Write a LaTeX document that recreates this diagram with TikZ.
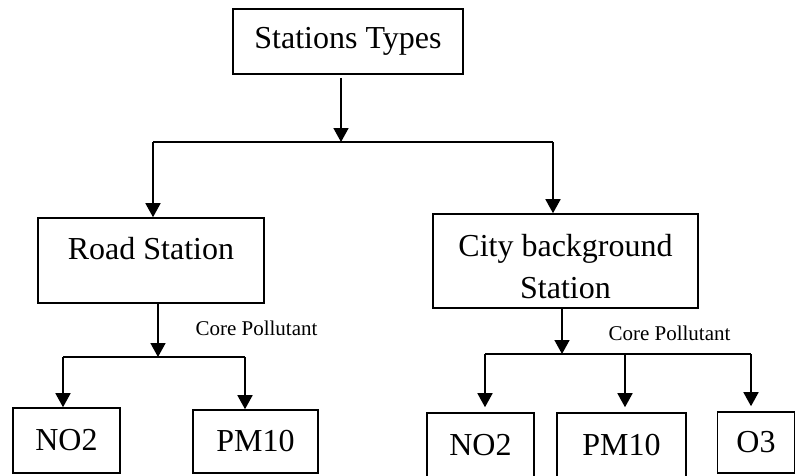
\documentclass[tikz,border=0pt]{standalone}
\usepackage{fontspec}
\setmainfont{Liberation Serif}
\usetikzlibrary{arrows.meta}

\begin{document}
\begin{tikzpicture}[
    x=1pt, y=-1pt,
    box/.style={draw, line width=1.6pt, inner sep=0pt, font=\fontsize{32}{42}\selectfont},
    note/.style={inner sep=0pt, font=\fontsize{21}{25}\selectfont},
    link/.style={line width=1.6pt},
    arr/.style={line width=1.6pt, -{Triangle[width=15pt,length=14pt]}}
  ]
  \clip (0,0) rectangle (795,475);
  \fill[white] (0,0) rectangle (795,475);

  % Root node
  \node[box, minimum width=230pt, minimum height=65pt] (types) at (348,41.5) {Stations Types};

  % Station nodes
  \node[box, minimum width=226pt, text height=41pt, text depth=44pt] (road) at (151,260.5) {Road Station};
  \node[box, align=center, minimum width=265pt, text height=84.5pt, text depth=9.5pt] (city) at (565.5,261) {City background\\Station};

  % Pollutant nodes
  \node[box, minimum width=107pt, minimum height=65pt] (noL) at (66.5,440.5) {NO2};
  \node[box, minimum width=125pt, minimum height=63pt] (pmL) at (255.5,441.5) {PM10};
  \node[box, minimum width=107pt, minimum height=65pt] (noR) at (480.5,445.5) {NO2};
  \node[box, minimum width=129pt, minimum height=65pt] (pmR) at (621.5,445.5) {PM10};
  \node[box, minimum width=77pt, minimum height=61pt] (ozR) at (756,442.5) {O3};

  \node[note] (cpL) at (256.5,328) {Core Pollutant};
  \node[note] (cpR) at (669.5,333) {Core Pollutant};

  % Joints
  \coordinate (j0) at (341,142);
  \coordinate (jL) at (153,142);
  \coordinate (jR) at (553,142);
  \coordinate (kL) at (158,357);
  \coordinate (kL1) at (63,357);
  \coordinate (kL2) at (245,357);
  \coordinate (kR) at (562,354);
  \coordinate (kR1) at (485,354);
  \coordinate (kR2) at (625,354);
  \coordinate (kR3) at (751,354);

  % Root to stations
  \draw[arr, shorten <=3pt] (j0 |- types.south) -- (j0);
  \draw[link] (jL) -- (jR);
  \draw[arr] (jL) -- (jL |- road.north);
  \draw[arr] (jR) -- (jR |- city.north);

  % Road station to pollutants
  \draw[arr] (kL |- road.south) -- (kL);
  \draw[link] (kL1) -- (kL2);
  \draw[arr] (kL1) -- (kL1 |- noL.north);
  \draw[arr] (kL2) -- (kL2 |- pmL.north);

  % City station to pollutants
  \draw[arr] (kR |- city.south) -- (kR);
  \draw[link] (kR1) -- (kR3);
  \draw[arr, shorten >=5pt] (kR1) -- (kR1 |- noR.north);
  \draw[arr, shorten >=5pt] (kR2) -- (kR2 |- pmR.north);
  \draw[arr, shorten >=5pt] (kR3) -- (kR3 |- ozR.north);

\end{tikzpicture}
\end{document}
